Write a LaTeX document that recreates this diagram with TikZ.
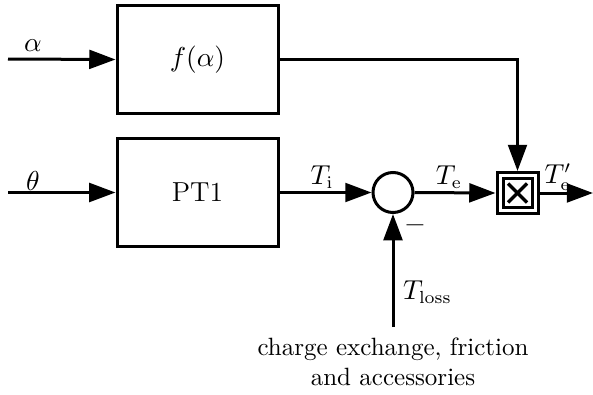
\documentclass[tikz,border=0pt]{standalone}
\usetikzlibrary{arrows.meta,calc}
\begin{document}
\begin{tikzpicture}[x=0.4pt,y=-0.4pt,
  line/.style={line width=1.2pt},
  arr/.style={line, -{Triangle[length=10.5pt,width=7.5pt]}},
  blockbox/.style={draw, line width=1.2pt, minimum width=64.4pt, minimum height=43pt, inner sep=0pt, font=\fontsize{11}{13}\selectfont},
  sumnode/.style={draw, circle, line width=1.2pt, minimum size=16pt, inner sep=0pt},
  mulbox/.style={draw, line width=1.2pt, minimum size=16.4pt, inner sep=0pt},
  lbl/.style={inner sep=1pt, font=\fontsize{10.5}{12}\selectfont}]
\useasboundingbox (0,0) rectangle (593,394);
% blocks
\node[blockbox] (f) at (197.5,59.5) {$f(\alpha)$};
\node[blockbox] (pt) at (197.5,192.5) {PT1};
\node[sumnode] (sum) at (393,192.5) {};
\node[mulbox] (mul) at (517.5,193) {};
\node[draw, line width=1.2pt, minimum size=11.6pt, inner sep=0pt] (mulin) at (mul.center) {};
\draw[line width=1.4pt] ($(mul.center)+(-9.5,-9.5)$) -- ($(mul.center)+(9.5,9.5)$);
\draw[line width=1.4pt] ($(mul.center)+(-9.5,9.5)$) -- ($(mul.center)+(9.5,-9.5)$);
% coordinates
\coordinate (ain) at (8,59);
\coordinate (tin) at (8,192.5);
\coordinate (out) at (593,193);
\coordinate (lossin) at (393,327);
\coordinate (corner) at (517.5,59);
% connectors
\draw[arr] (ain) -- (f.west);
\draw[arr] (tin) -- (pt.west);
\draw[arr] (pt.east) -- (sum.west);
\draw[arr] (sum.east) -- (mul.west);
\draw[arr] (mul.east) -- (out);
\draw[arr] (f.east |- corner) -- (corner) -- (mul.north);
\draw[arr] (lossin) -- (sum.south);
% labels
\node[lbl] (la) at (33,46) {$\alpha$};
\node[lbl] (lt) at (33,181) {$\theta$};
\node[lbl] (lti) at (322,177) {$T_{\mathrm{i}}$};
\node[lbl] (lte) at (449,177) {$T_{\mathrm{e}}$};
\node[lbl] (ltep) at (558,177) {$T_{\mathrm{e}}'$};
\node[lbl, anchor=west] (ltl) at (400,292) {$T_{\mathrm{loss}}$};
\node[inner sep=0pt, font=\large\bfseries] (minus) at (415,229) {--};
\node[align=center, inner sep=0pt] (txt) at (393,362) {charge exchange, friction\\and accessories};
\end{tikzpicture}
\end{document}
